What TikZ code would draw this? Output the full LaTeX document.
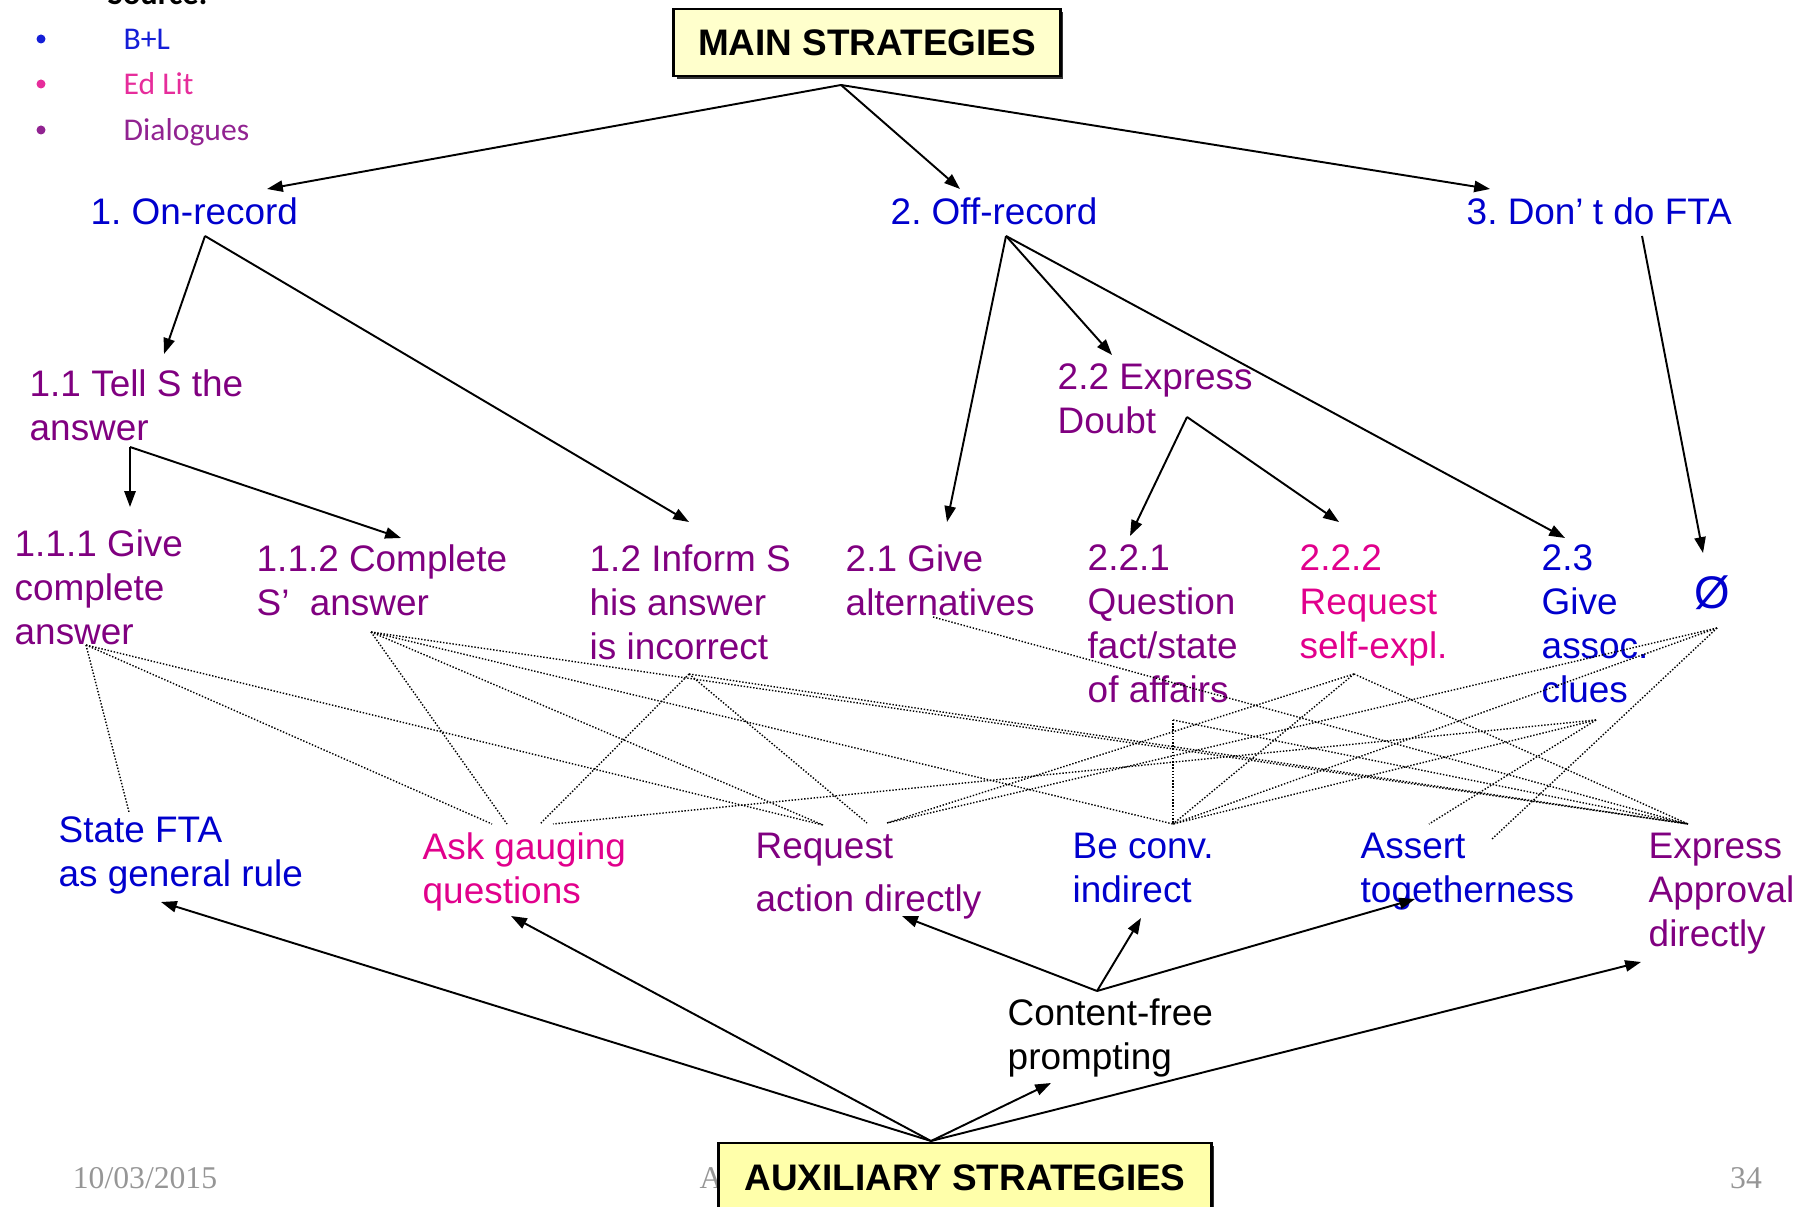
\documentclass[tikz,border=0pt]{standalone}
\usepackage{fontspec}
\setmainfont{Liberation Sans}
\newfontfamily\legfont{Carlito}
\newfontfamily\footfont{Liberation Serif}
\usetikzlibrary{arrows.meta,shadows}
\frenchspacing

\definecolor{stblue}{RGB}{0,0,205}
\definecolor{stpurple}{RGB}{128,0,128}
\definecolor{stpink}{RGB}{225,0,140}
\definecolor{legblue}{RGB}{20,30,215}
\definecolor{legpink}{RGB}{230,45,155}
\definecolor{legpurple}{RGB}{145,35,145}
\definecolor{mainfill}{RGB}{255,255,204}
\definecolor{auxfill}{RGB}{255,255,170}
\definecolor{footgray}{RGB}{150,150,150}

\tikzset{
  lbl/.style={anchor=north west, inner sep=0pt, align=left,
    font=\fontsize{10.5}{12.5}\selectfont},
  headbox/.style={draw, line width=0.8pt, inner sep=0pt,
    font=\fontsize{10.5}{12.5}\selectfont\bfseries,
    drop shadow={shadow xshift=0.9pt, shadow yshift=-0.9pt, fill=black, opacity=0.8}},
  arr/.style={-{Triangle[length=4.5pt,width=3.2pt]}, line width=0.55pt},
  dotline/.style={line width=0.4pt, dash pattern=on 0.4pt off 0.5pt},
  legtext/.style={anchor=base west, inner sep=0pt, font=\legfont\fontsize{9}{11}\selectfont},
  foot/.style={inner sep=0pt, text=footgray, font=\footfont\fontsize{9}{11}\selectfont}
}

\begin{document}
\begin{tikzpicture}[x=0.01cm, y=-0.01cm]
\useasboundingbox (0,0) rectangle (1807,1207);

% legend
\node[legtext, font=\legfont\fontsize{9.2}{11}\selectfont\bfseries] (src) at (107,5) {Source:};
\fill[legblue] (41,39) circle[radius=4.5];
\fill[legpink] (41,84) circle[radius=4.5];
\fill[legpurple] (41,130) circle[radius=4.5];
\node[legtext, text=legblue] (legbl) at (123,50) {B+L};
\node[legtext, text=legpink] (legedl) at (123,95) {Ed Lit};
\node[legtext, text=legpurple] (legdia) at (123,141) {Dialogues};

% main strategies
\node[headbox, fill=mainfill, minimum width=3.86cm, minimum height=0.67cm] (main) at (867,42.5) {MAIN STRATEGIES};
\node[lbl, text=stblue] (onrec) at (90,197) {1. On-record};
\node[lbl, text=stblue] (offrec) at (890,197) {2. Off-record};
\node[lbl, text=stblue] (dont) at (1466,197) {3. Don’\hspace{0.25em}t do FTA};
\node[lbl, text=stpurple] (tell) at (29,369) {1.1 Tell S the\\answer};
\node[lbl, text=stpurple] (doubt) at (1057,363) {2.2 Express\\Doubt};
\node[lbl, text=stpurple] (give) at (14,529) {1.1.1 Give\\complete\\answer};
\node[lbl, text=stpurple] (compl) at (256,544) {1.1.2 Complete\\S’\hspace{0.55em}answer};
\node[lbl, text=stpurple] (inform) at (589,544) {1.2 Inform S\\his answer\\is incorrect};
\node[lbl, text=stpurple] (altern) at (845,544) {2.1 Give\\alternatives};
\node[lbl, text=stpurple] (quest) at (1087,544) {2.2.1\\Question\\fact/state\\of affairs};
\node[lbl, text=stpink] (selfexp) at (1299,544) {2.2.2\\Request\\self-expl.};
\node[lbl, text=stblue] (clues) at (1541,544) {2.3\\Give\\assoc.\\clues};
\node[inner sep=0pt, text=stblue, font=\fontsize{13}{15}\selectfont] (none) at (1712,593) {Ø};

% auxiliary strategies
\node[lbl, text=stblue] (state) at (58,816) {State FTA\\as general rule};
\node[lbl, text=stpink] (gauge) at (422,832) {Ask gauging\\questions};
\node[lbl, text=stpurple] (reqact) at (755,832) {Request\\[2.6pt]action directly};
\node[lbl, text=stblue] (conv) at (1072,832) {Be conv.\\indirect};
\node[lbl, text=stblue] (assert) at (1360,832) {Assert\\togetherness};
\node[lbl, text=stpurple] (approv) at (1648,832) {Express\\Approval\\directly};
\node[lbl] (cfree) at (1007,998) {Content-free\\prompting};

% footer
\node[foot] (date) at (145,1178) {10/03/2015};
\node[foot] (pnum) at (1746,1178) {34};
\node[foot] (ftitle) at (711,1178) {A};
\node[headbox, fill=auxfill, minimum width=4.92cm, minimum height=0.7cm] (aux) at (965,1178) {AUXILIARY STRATEGIES};

% arrow ends
\coordinate (main-out) at (841,85);
\coordinate (onrec-in) at (267,189);
\coordinate (offrec-in) at (960,189);
\coordinate (dont-in) at (1490,189);
\coordinate (onrec-out) at (205,236);
\coordinate (tell-in) at (164,354);
\coordinate (inform-in) at (689,522);
\coordinate (offrec-out) at (1006,236);
\coordinate (altern-in) at (947,522);
\coordinate (doubt-in) at (1112,355);
\coordinate (clues-in) at (1565,538);
\coordinate (dont-out) at (1642,236);
\coordinate (none-in) at (1703,553);
\coordinate (tell-out) at (130,447);
\coordinate (give-in) at (130,507);
\coordinate (compl-in) at (401,538);
\coordinate (doubt-out) at (1187,417);
\coordinate (quest-in) at (1130,536);
\coordinate (selfexp-in) at (1339,522);
\coordinate (aux-out) at (931,1141);
\coordinate (state-in) at (161,902);
\coordinate (gauge-in) at (511,916);
\coordinate (cfree-in) at (1051,1083);
\coordinate (approv-in) at (1641,962);
\coordinate (cfree-out) at (1097,991);
\coordinate (reqact-in) at (902,916);
\coordinate (conv-in) at (1141,918);
\coordinate (assert-in) at (1415,899);

\foreach \a/\b in {main-out/onrec-in, main-out/offrec-in, main-out/dont-in,
    onrec-out/tell-in, onrec-out/inform-in,
    offrec-out/altern-in, offrec-out/doubt-in, offrec-out/clues-in,
    dont-out/none-in, tell-out/give-in, tell-out/compl-in,
    doubt-out/quest-in, doubt-out/selfexp-in,
    aux-out/state-in, aux-out/gauge-in, aux-out/cfree-in, aux-out/approv-in,
    cfree-out/reqact-in, cfree-out/conv-in, cfree-out/assert-in}
  \draw[arr] (\a) -- (\b);

% dotted links
\coordinate (d111) at (86,645);
\coordinate (d112) at (371,632);
\coordinate (d12) at (689,674);
\coordinate (d21) at (933,617);
\coordinate (d221) at (1173,720);
\coordinate (d222) at (1354,674);
\coordinate (d23) at (1596,720);
\coordinate (dnull) at (1717,628);
\coordinate (dstate) at (129,812);
\coordinate (dask1) at (492,824);
\coordinate (dask2) at (507,824);
\coordinate (dask3) at (540,824);
\coordinate (dask4) at (553,824);
\coordinate (dreq1) at (823,825);
\coordinate (dreq2) at (867,823);
\coordinate (dreq3) at (887,823);
\coordinate (dconv) at (1173,824);
\coordinate (dass1) at (1429,824);
\coordinate (dass2) at (1492,839);
\coordinate (dexp) at (1688,824);

\foreach \a/\b in {d111/dstate, d111/dask1, d111/dreq1,
    d112/dask2, d112/dreq1, d112/dconv, d112/dexp,
    d12/dask3, d12/dreq2, d12/dexp, d21/dexp,
    d221/dconv, d221/dexp, d222/dreq3, d222/dconv, d222/dexp,
    d23/dask4, d23/dconv, d23/dass1,
    dnull/dreq3, dnull/dconv, dnull/dass2}
  \draw[dotline] (\a) -- (\b);
\end{tikzpicture}
\end{document}
